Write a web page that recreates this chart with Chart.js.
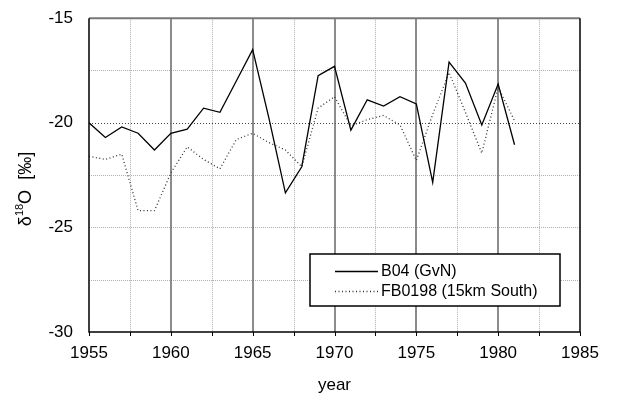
<!DOCTYPE html>
<html>
<head>
<meta charset="utf-8">
<script src="https://cdn.jsdelivr.net/npm/chart.js@4/dist/chart.umd.min.js"></script>
<style>
  html, body { margin: 0; padding: 0; background: #fff; }
  #wrap { width: 617px; height: 398px; }
</style>
</head>
<body>
<div id="wrap"><canvas id="grafico" width="617" height="398"></canvas></div>
<script>
var years = [1955, 1956, 1957, 1958, 1959, 1960, 1961, 1962, 1963, 1964, 1965, 1966, 1967, 1968,
             1969, 1970, 1971, 1972, 1973, 1974, 1975, 1976, 1977, 1978, 1979, 1980, 1981];
var b04 = [-20.0, -20.7, -20.2, -20.5, -21.3, -20.5, -20.3, -19.3, -19.5, -18.0, -16.5, -19.8, -23.35, -22.1,
           -17.75, -17.3, -20.35, -18.9, -19.2, -18.75, -19.1, -22.85, -17.1, -18.1, -20.1, -18.15, -21.05];
var fb0198 = [-21.6, -21.75, -21.5, -24.2, -24.2, -22.4, -21.15, -21.75, -22.2, -20.8, -20.5, -20.95, -21.3, -22.1,
              -19.3, -18.75, -20.15, -19.85, -19.65, -20.1, -21.8, -19.6, -17.6, -19.5, -21.45, -18.3, -19.9];
var xTicks = [1955, 1960, 1965, 1970, 1975, 1980, 1985];
var yTicks = [-15, -20, -25, -30];
var seriesLabels = ['B04 (GvN)', 'FB0198 (15km South)'];

var fuente = 'Liberation Sans, Arial, sans-serif';

function puntos(vals) {
    return years.map(function (y, i) { return { x: y, y: vals[i] }; });
}

// rejilla, bordes y leyenda dibujados a mano
var decoracion = {
    id: 'decoracion',
    beforeDatasetsDraw: function (chart) {
        var ctx = chart.ctx, a = chart.chartArea;
        var sx = chart.scales.x, sy = chart.scales.y;
        ctx.save();
        // lineas menores punteadas
        ctx.strokeStyle = '#b0b0b0';
        ctx.lineWidth = 1;
        ctx.setLineDash([1, 1]);
        for (var v = 1957.5; v < 1985; v += 5) {
            var px = Math.round(sx.getPixelForValue(v)) + 0.5;
            ctx.beginPath(); ctx.moveTo(px, a.top); ctx.lineTo(px, a.bottom); ctx.stroke();
        }
        [-17.5, -22.5, -25, -27.5].forEach(function (v) {
            var py = Math.round(sy.getPixelForValue(v)) + 0.5;
            ctx.beginPath(); ctx.moveTo(a.left, py); ctx.lineTo(a.right, py); ctx.stroke();
        });
        // -20 mas oscura
        ctx.strokeStyle = '#444';
        ctx.setLineDash([1, 2]);
        var p20 = Math.round(sy.getPixelForValue(-20)) + 0.5;
        ctx.beginPath(); ctx.moveTo(a.left, p20); ctx.lineTo(a.right, p20); ctx.stroke();
        // lineas mayores verticales
        ctx.setLineDash([]);
        ctx.strokeStyle = '#666';
        ctx.lineWidth = 1.5;
        for (var w = 1960; w < 1985; w += 5) {
            var qx = Math.round(sx.getPixelForValue(w));
            ctx.beginPath(); ctx.moveTo(qx, a.top); ctx.lineTo(qx, a.bottom); ctx.stroke();
        }
        ctx.restore();
    },
    afterDatasetsDraw: function (chart) {
        var ctx = chart.ctx, a = chart.chartArea;
        ctx.save();
        // borde superior gris
        ctx.strokeStyle = '#777';
        ctx.lineWidth = 2;
        ctx.beginPath(); ctx.moveTo(a.left, a.top); ctx.lineTo(a.right, a.top); ctx.stroke();
        // ejes negros
        ctx.strokeStyle = '#000';
        ctx.lineWidth = 1.5;
        ctx.beginPath();
        ctx.moveTo(a.left, a.top); ctx.lineTo(a.left, a.bottom); ctx.lineTo(a.right, a.bottom); ctx.lineTo(a.right, a.top);
        ctx.stroke();
        // marcas en el eje x
        var sx = chart.scales.x;
        ctx.lineWidth = 1;
        for (var v = 1955; v <= 1985; v += 2.5) {
            var px = Math.round(sx.getPixelForValue(v)) + 0.5;
            ctx.beginPath(); ctx.moveTo(px, a.bottom); ctx.lineTo(px, a.bottom + 4); ctx.stroke();
        }

        // leyenda
        var lx = 310, ly = 254, lw = 250, lh = 52;
        ctx.fillStyle = '#fff';
        ctx.fillRect(lx, ly, lw, lh);
        ctx.strokeStyle = '#000';
        ctx.lineWidth = 1.5;
        ctx.strokeRect(lx, ly, lw, lh);
        ctx.font = '16px ' + fuente;
        ctx.textBaseline = 'middle';
        ctx.textAlign = 'left';
        chart.data.datasets.forEach(function (ds, i) {
            var y = ly + 16.5 + i * 20.5;
            ctx.strokeStyle = ds.borderColor;
            ctx.lineWidth = ds.borderWidth;
            ctx.setLineDash(ds.borderDash || []);
            ctx.beginPath(); ctx.moveTo(335, Math.round(y) + 0.5); ctx.lineTo(378, Math.round(y) + 0.5); ctx.stroke();
            ctx.setLineDash([]);
            ctx.fillStyle = '#000';
            ctx.fillText(ds.label, 381, y + 1);
        });
        ctx.restore();
    },
    afterDraw: function (chart) {
        var ctx = chart.ctx;
        ctx.save();
        ctx.translate(31, 189);
        ctx.rotate(-Math.PI / 2);
        ctx.fillStyle = '#000';
        ctx.textBaseline = 'alphabetic';
        ctx.textAlign = 'left';
        var big = '18px ' + fuente, small = '11px ' + fuente;
        ctx.font = big;
        var w1 = ctx.measureText('δ').width;
        ctx.font = small;
        var w2 = ctx.measureText('18').width;
        ctx.font = big;
        var w3 = ctx.measureText('O').width;
        var w4 = ctx.measureText('  [‰]').width;
        var total = w1 + w2 + w3 + w4;
        var x0 = -total / 2;
        ctx.fillText('δ', x0, 0);
        ctx.font = small;
        ctx.fillText('18', x0 + w1, -8);
        ctx.font = big;
        ctx.fillText('O', x0 + w1 + w2, 0);
        ctx.fillText('  [‰]', x0 + w1 + w2 + w3, 0);
        ctx.restore();
    }
};

var ctx = document.getElementById('grafico').getContext('2d');
var chart = new Chart(ctx, {
    type: 'line',
    data: {
        datasets: [{
            label: seriesLabels[0],
            data: puntos(b04),
            borderColor: '#000',
            borderWidth: 1.3,
            pointRadius: 0,
            tension: 0,
            fill: false
        }, {
            label: seriesLabels[1],
            data: puntos(fb0198),
            borderColor: '#333',
            borderWidth: 1.3,
            borderDash: [1, 2.5],
            pointRadius: 0,
            tension: 0,
            fill: false
        }]
    },
    options: {
        responsive: false,
        animation: false,
        layout: { padding: { left: 0, right: 37, top: 13, bottom: 0 } },
        plugins: {
            legend: { display: false },
            tooltip: { enabled: false }
        },
        scales: {
            x: {
                type: 'linear',
                min: 1955,
                max: 1985,
                afterBuildTicks: function (s) { s.ticks = xTicks.map(function (v) { return { value: v }; }); },
                afterFit: function (s) { s.height = 66; },
                grid: { display: false },
                border: { display: false },
                ticks: {
                    color: '#000',
                    font: { family: fuente, size: 17 },
                    padding: 3,
                    maxRotation: 0,
                    callback: function (v) { return String(v); }
                },
                title: {
                    display: true,
                    text: 'year',
                    color: '#000',
                    font: { family: fuente, size: 17 },
                    padding: { top: 8, bottom: 2 }
                }
            },
            y: {
                min: -30,
                max: -15,
                afterBuildTicks: function (s) { s.ticks = yTicks.map(function (v) { return { value: v }; }); },
                afterFit: function (s) { s.width = 89; },
                grid: { display: false },
                border: { display: false },
                ticks: {
                    color: '#000',
                    font: { family: fuente, size: 17 },
                    padding: 8
                }
            }
        }
    },
    plugins: [decoracion]
});
</script>
</body>
</html>
